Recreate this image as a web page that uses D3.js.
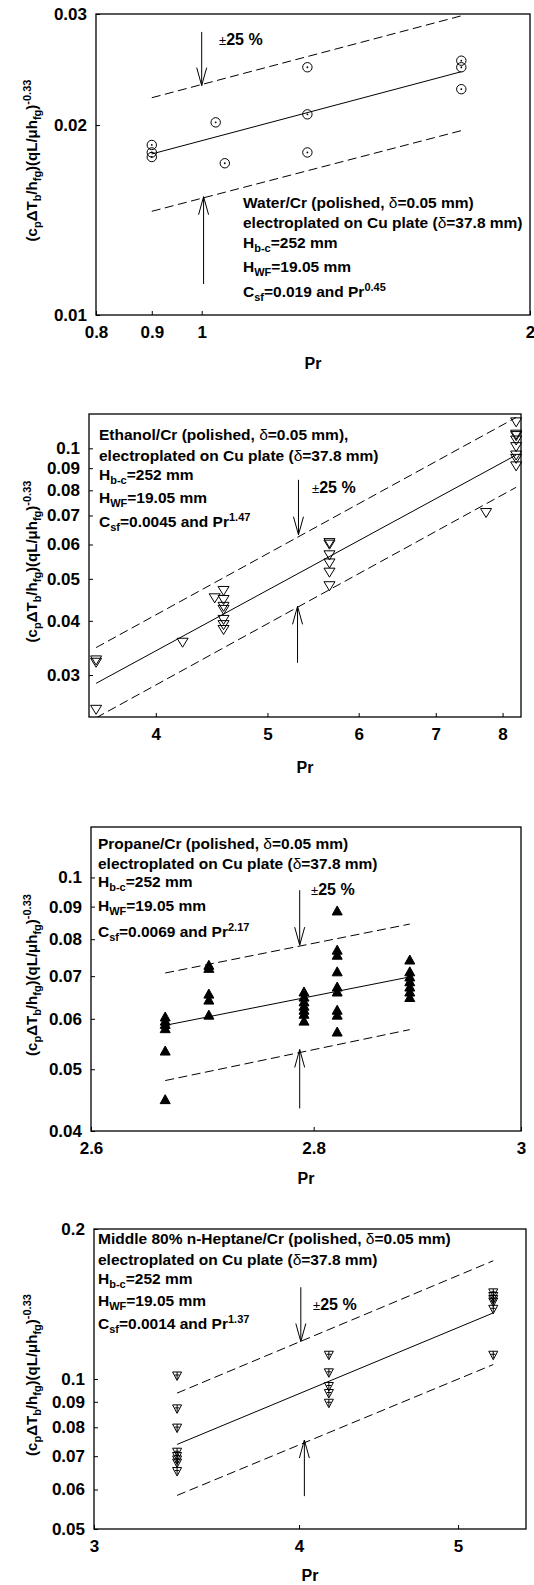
<!DOCTYPE html>
<html>
<head>
<meta charset="utf-8">
<script src="https://cdn.jsdelivr.net/npm/d3@7"></script>
<style>
  body { margin: 0; background: #fff; }
  text { font-family: "Liberation Sans", Arial, Helvetica, sans-serif; font-weight: bold; fill: #000; }
</style>
</head>
<body>
<svg id="chart" width="534" height="1585"></svg>
<script>
// ---- data ----
// water
var waterXTicks = [0.8, 0.9, 1, 2];
var waterYTicks = [0.01, 0.02, 0.03];
var waterPr  = [0.9, 0.9, 0.9, 1.03, 1.05, 1.25, 1.25, 1.25, 1.73, 1.73, 1.73];
var waterVal = [0.0186, 0.0181, 0.0178, 0.0202, 0.0174, 0.0247, 0.0208, 0.0181, 0.0253, 0.0247, 0.0228];
var waterFitPr = [0.9, 1.73];
var waterFit   = [0.0180, 0.0243];
var waterUpper = [0.0221, 0.0298];
var waterLower = [0.0146, 0.0196];
var waterArrowPr   = [1.0, 1.004];
var waterArrowDown = [0.0281, 0.0231];
var waterArrowUp   = [0.0112, 0.0154];

// ethanol
var ethanolXTicks = [4, 5, 6, 7, 8];
var ethanolYTicks = [0.03, 0.04, 0.05, 0.06, 0.07, 0.08, 0.09, 0.1];
var ethanolPr  = [3.55, 3.55, 3.55, 4.22, 4.5,
                  4.58, 4.58, 4.58, 4.58, 4.58, 4.58, 4.58,
                  5.66, 5.66, 5.66, 5.66, 5.66, 5.66,
                  7.74,
                  8.22, 8.22, 8.22, 8.22, 8.22, 8.22, 8.22, 8.22];
var ethanolVal = [0.0325, 0.0321, 0.0250, 0.0357, 0.0452,
                  0.0470, 0.0448, 0.0432, 0.0425, 0.0403, 0.0392, 0.0382,
                  0.0606, 0.0601, 0.0568, 0.0544, 0.0518, 0.0482,
                  0.0711,
                  0.1151, 0.1078, 0.1070, 0.1045, 0.1009, 0.0965, 0.0948, 0.0911];
var ethanolFitPr = [3.55, 8.22];
var ethanolFit   = [0.0287, 0.0965];
var ethanolUpper = [0.0347, 0.1178];
var ethanolLower = [0.0239, 0.0813];
var ethanolArrowPr   = [5.32, 5.31];
var ethanolArrowDown = [0.0846, 0.0632];
var ethanolArrowUp   = [0.0320, 0.0432];

// propane
var propaneXTicks = [2.6, 2.8, 3];
var propaneYTicks = [0.04, 0.05, 0.06, 0.07, 0.08, 0.09, 0.1];
var propanePr  = [2.665, 2.665, 2.665, 2.665, 2.665, 2.665,
                  2.704, 2.704, 2.704, 2.704, 2.704,
                  2.791, 2.791, 2.791, 2.791, 2.791, 2.791, 2.791,
                  2.822, 2.822, 2.822, 2.822, 2.822, 2.822, 2.822, 2.822, 2.822,
                  2.891, 2.891, 2.891, 2.891, 2.891, 2.891, 2.891];
var propaneVal = [0.0604, 0.0595, 0.0588, 0.0579, 0.0534, 0.0448,
                  0.0728, 0.0720, 0.0656, 0.0642, 0.0608,
                  0.0661, 0.0649, 0.0638, 0.0628, 0.0619, 0.0610, 0.0595,
                  0.0886, 0.0769, 0.0755, 0.0711, 0.0673, 0.0661, 0.0619, 0.0608, 0.0572,
                  0.0742, 0.0711, 0.0698, 0.0686, 0.0673, 0.0661, 0.0648];
var propaneFitPr = [2.665, 2.891];
var propaneFit   = [0.0586, 0.0698];
var propaneUpper = [0.0708, 0.0845];
var propaneLower = [0.0480, 0.0577];
var propaneArrowPr   = [2.787, 2.787];
var propaneArrowDown = [0.0955, 0.0783];
var propaneArrowUp   = [0.0434, 0.0537];

// n-heptane
var heptaneXTicks = [3, 4, 5];
var heptaneYTicks = [0.05, 0.06, 0.07, 0.08, 0.09, 0.1, 0.2];
var heptanePr  = [3.371, 3.371, 3.371, 3.371, 3.371, 3.371, 3.371, 3.371,
                  4.171, 4.171, 4.171, 4.171, 4.171,
                  5.253, 5.253, 5.253, 5.253, 5.253, 5.253];
var heptaneVal = [0.1014, 0.0871, 0.0797, 0.0713, 0.0699, 0.0688, 0.0678, 0.0652,
                  0.1116, 0.1029, 0.0966, 0.0935, 0.0894,
                  0.1489, 0.1464, 0.1444, 0.1427, 0.1380, 0.1116];
var heptaneFitPr = [3.371, 5.253];
var heptaneFit   = [0.0739, 0.1357];
var heptaneUpper = [0.0937, 0.1727];
var heptaneLower = [0.0584, 0.1069];
var heptaneArrowPr   = [4.01, 4.03];
var heptaneArrowDown = [0.1528, 0.1189];
var heptaneArrowUp   = [0.0582, 0.0754];

// annotation texts (segments: [text, kind])
function caseLines(first, csf, pw) {
	return [
		first,
		[["electroplated on Cu plate ("], ["δ", "sym"], ["=37.8 mm)"]],
		[["H"], ["b-c", "sub"], ["=252 mm"]],
		[["H"], ["WF", "sub"], ["=19.05 mm"]],
		[["C"], ["sf", "sub"], ["=" + csf + " and Pr"], [pw, "sup"]]
	];
}
var waterText   = caseLines([["Water/Cr (polished, "], ["δ", "sym"], ["=0.05 mm)"]], "0.019", "0.45");
var ethanolText = caseLines([["Ethanol/Cr (polished, "], ["δ", "sym"], ["=0.05 mm),"]], "0.0045", "1.47");
var propaneText = caseLines([["Propane/Cr (polished, "], ["δ", "sym"], ["=0.05 mm)"]], "0.0069", "2.17");
var heptaneText = caseLines([["Middle 80% n-Heptane/Cr (polished, "], ["δ", "sym"], ["=0.05 mm)"]], "0.0014", "1.37");

var yLabel = [["(c"], ["p", "sub"], ["ΔT"], ["b", "sub"], ["/h"], ["fg", "sub"], [")(qL/μh"], ["fg", "sub"], [")"], ["-0.33", "sup"]];

// ---- layout ----
var panels = [
	{ id: "water", box: {x0: 96, x1: 530, y0: 14, y1: 315}, xDomain: [0.8, 2], yDomain: [0.01, 0.03],
	  xTicks: waterXTicks, yTicks: waterYTicks, pr: waterPr, val: waterVal,
	  fitPr: waterFitPr, fit: waterFit, upper: waterUpper, lower: waterLower,
	  arrowPr: waterArrowPr, arrowDown: waterArrowDown, arrowUp: waterArrowUp,
	  marker: "circleDot", lines: waterText, textX: 243, textY: [208, 228, 248, 272, 297],
	  pm: {x: 219, y: 45}, prY: 369 },
	{ id: "ethanol", box: {x0: 89, x1: 521, y0: 414, y1: 717}, xDomain: [3.5, 8.3], yDomain: [0.024, 0.12],
	  xTicks: ethanolXTicks, yTicks: ethanolYTicks, pr: ethanolPr, val: ethanolVal,
	  fitPr: ethanolFitPr, fit: ethanolFit, upper: ethanolUpper, lower: ethanolLower,
	  arrowPr: ethanolArrowPr, arrowDown: ethanolArrowDown, arrowUp: ethanolArrowUp,
	  marker: "triDown", lines: ethanolText, textX: 99, textY: [440, 461, 480, 503, 527],
	  pm: {x: 312, y: 493}, prY: 773 },
	{ id: "propane", box: {x0: 91, x1: 521, y0: 827, y1: 1131}, xDomain: [2.6, 3], yDomain: [0.04, 0.12],
	  xTicks: propaneXTicks, yTicks: propaneYTicks, pr: propanePr, val: propaneVal,
	  fitPr: propaneFitPr, fit: propaneFit, upper: propaneUpper, lower: propaneLower,
	  arrowPr: propaneArrowPr, arrowDown: propaneArrowDown, arrowUp: propaneArrowUp,
	  marker: "triUpFilled", lines: propaneText, textX: 98, textY: [849, 869, 887, 911, 937],
	  pm: {x: 311, y: 895}, prY: 1184 },
	{ id: "heptane", box: {x0: 94, x1: 526, y0: 1229, y1: 1529}, xDomain: [3, 5.5], yDomain: [0.05, 0.2],
	  xTicks: heptaneXTicks, yTicks: heptaneYTicks, pr: heptanePr, val: heptaneVal,
	  fitPr: heptaneFitPr, fit: heptaneFit, upper: heptaneUpper, lower: heptaneLower,
	  arrowPr: heptaneArrowPr, arrowDown: heptaneArrowDown, arrowUp: heptaneArrowUp,
	  marker: "triDownPlus", lines: heptaneText, textX: 98, textY: [1244, 1265, 1284, 1306, 1329],
	  pm: {x: 313, y: 1310}, prY: 1581 }
];

var svg = d3.select("#chart");

function richText(sel, segs, subSize) {
	var shift = 0;
	segs.forEach(function(s){
		var kind = s[1] || "n";
		var target = kind == "sub" ? 4 : (kind == "sup" ? -6 : 0);
		var t = sel.append("tspan").attr("dy", target - shift).text(s[0]);
		if (kind == "sub" || kind == "sup") t.attr("font-size", subSize);
		if (kind == "sym") t.attr("font-weight", "normal");
		shift = target;
	});
}

function markerPath(kind) {
	if (kind == "triDown")     return "M-5.5,-4L5.5,-4L0,5Z";
	if (kind == "triUpFilled") return "M-5,4L5,4L0,-5Z";
	if (kind == "triDownPlus") return "M-4.5,-4L4.5,-4L0,4.5Z M0,-4L0,3 M-2.2,-1L2.2,-1";
	return "";
}

function arrowHead(g, x, tipY, dir) {
	// dir = +1 arrow pointing down, -1 pointing up
	g.append("path")
		.attr("d", "M" + (x - 5) + "," + (tipY - dir * 18) + "L" + x + "," + tipY + "L" + (x + 5) + "," + (tipY - dir * 18))
		.attr("fill", "none").attr("stroke", "#000").attr("stroke-width", 1);
}

panels.forEach(function(p){
	var b = p.box;
	var x = d3.scaleLog().domain(p.xDomain).range([b.x0, b.x1]);
	var y = d3.scaleLog().domain(p.yDomain).range([b.y1, b.y0]);
	var g = svg.append("g").attr("class", "panel " + p.id);

	g.append("clipPath").attr("id", "clip-" + p.id)
		.append("rect").attr("x", b.x0).attr("y", b.y0).attr("width", b.x1 - b.x0).attr("height", b.y1 - b.y0);

	// axes (ticks pointing inward)
	var xAxis = g.append("g").attr("transform", "translate(0," + b.y1 + ")")
		.call(d3.axisBottom(x).tickValues(p.xTicks).tickSize(-4).tickPadding(11).tickFormat(function(d){ return String(d); }));
	var yAxis = g.append("g").attr("transform", "translate(" + b.x0 + ",0)")
		.call(d3.axisLeft(y).tickValues(p.yTicks).tickSize(-4).tickPadding(9).tickFormat(function(d){ return String(d); }));
	[xAxis, yAxis].forEach(function(a){
		a.select(".domain").remove();
		a.selectAll("text").attr("font-size", 17).attr("font-family", null).attr("fill", "#000");
		a.selectAll("line").attr("stroke", "#000");
	});

	g.append("rect").attr("x", b.x0).attr("y", b.y0).attr("width", b.x1 - b.x0).attr("height", b.y1 - b.y0)
		.attr("fill", "none").attr("stroke", "#000").attr("stroke-width", 1.3);

	// fit line and +/-25% band
	var lineGen = function(vals){
		return d3.line().x(function(d, i){ return x(p.fitPr[i]); }).y(function(d){ return y(d); })(vals);
	};
	var lines = g.append("g").attr("clip-path", "url(#clip-" + p.id + ")");
	lines.append("path").attr("d", lineGen(p.fit)).attr("fill", "none").attr("stroke", "#000").attr("stroke-width", 1);
	[p.upper, p.lower].forEach(function(v){
		lines.append("path").attr("d", lineGen(v)).attr("fill", "none").attr("stroke", "#000")
			.attr("stroke-width", 1).attr("stroke-dasharray", "9,4.5");
	});

	// arrows
	var ax0 = x(p.arrowPr[0]), ax1 = x(p.arrowPr[1]);
	g.append("line").attr("x1", ax0).attr("x2", ax0).attr("y1", y(p.arrowDown[0])).attr("y2", y(p.arrowDown[1]))
		.attr("stroke", "#000").attr("stroke-width", 1);
	arrowHead(g, ax0, y(p.arrowDown[1]), 1);
	g.append("line").attr("x1", ax1).attr("x2", ax1).attr("y1", y(p.arrowUp[0])).attr("y2", y(p.arrowUp[1]))
		.attr("stroke", "#000").attr("stroke-width", 1);
	arrowHead(g, ax1, y(p.arrowUp[1]), -1);

	var pm = g.append("text").attr("x", p.pm.x).attr("y", p.pm.y).attr("font-size", 16);
	pm.append("tspan").attr("font-weight", "normal").attr("font-size", 13).text("±");
	pm.append("tspan").text("25 %");

	// data points
	var pts = g.append("g").selectAll("g").data(p.pr).enter().append("g")
		.attr("transform", function(d, i){ return "translate(" + x(d) + "," + y(p.val[i]) + ")"; });
	if (p.marker == "circleDot") {
		pts.append("circle").attr("r", 4.7).attr("fill", "none").attr("stroke", "#000").attr("stroke-width", 1);
		pts.append("circle").attr("r", 0.9).attr("fill", "#000");
	} else {
		pts.append("path").attr("d", markerPath(p.marker))
			.attr("fill", p.marker == "triUpFilled" ? "#000" : "none")
			.attr("stroke", "#000").attr("stroke-width", 1);
	}

	// description
	p.lines.forEach(function(segs, i){
		var t = g.append("text").attr("x", p.textX).attr("y", p.textY[i]).attr("font-size", 15.5);
		richText(t, segs, 11);
	});

	// axis titles
	g.append("text").attr("x", (b.x0 + b.x1) / 2).attr("y", p.prY).attr("text-anchor", "middle")
		.attr("font-size", 16).text("Pr");
	var yl = g.append("text").attr("text-anchor", "middle").attr("font-size", 15)
		.attr("transform", "translate(37," + ((b.y0 + b.y1) / 2 - 4) + ") rotate(-90)");
	richText(yl, yLabel, 11);
});
</script>
</body>
</html>
